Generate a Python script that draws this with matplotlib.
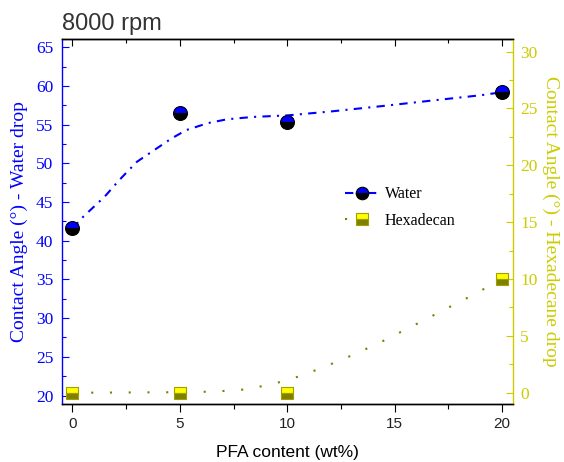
import matplotlib.pyplot as plt
from matplotlib.ticker import MultipleLocator

# 数据
pfa = [0, 5, 10, 20]
water = [41.6, 56.5, 55.4, 59.2]
hexa = [0.0, 0.0, 0.0, 10.0]

# 拟合曲线
water_fit_x = [0, 0.5, 1.5, 2.2, 3.0, 3.8, 4.6, 5.3, 6.3, 7.2, 8.4, 10, 12, 14.4, 17, 19, 20]
water_fit_y = [41.6, 43.1, 45.7, 47.9, 50.2, 51.7, 53.2, 54.3, 55.2, 55.7, 56.0, 56.2,
               56.7, 57.4, 58.2, 58.8, 59.2]
hexa_fit_x = [0, 5, 6.5, 7.8, 8.7, 9.6, 10.5, 11.35, 12.2, 13.05, 13.9, 14.75, 15.55,
              16.4, 17.2, 18.05, 18.9, 19.7, 20]
hexa_fit_y = [0, 0.05, 0.1, 0.24, 0.53, 0.91, 1.41, 2.0, 2.64, 3.32, 4.05, 4.81, 5.6,
              6.4, 7.2, 8.0, 8.86, 9.68, 10.0]

blue = '#0000ff'
yellow = '#cccc00'
olive = '#808000'

fig = plt.figure(figsize=(5.64, 4.62), dpi=100)
ax = fig.add_axes([0.1094, 0.1255, 0.7996, 0.790])
ax2 = ax.twinx()

# 水滴
ax.plot(water_fit_x, water_fit_y, color=blue, lw=1.5, dashes=(4, 3, 1, 3))
ax.plot(pfa, water, ls='none', marker='o', ms=10, fillstyle='top',
        markerfacecolor=blue, markerfacecoloralt='black', markeredgecolor='black', mew=0.8)
# 十六烷
ax2.plot(hexa_fit_x, hexa_fit_y, color=olive, lw=1.5, dashes=(1, 8))
ax2.plot(pfa, hexa, ls='none', marker='s', ms=9, fillstyle='top',
         markerfacecolor='#ffff00', markerfacecoloralt=olive, markeredgecolor='#a0a000', mew=0.8)

# 图例
h1, = ax2.plot([], [], color=blue, lw=1.5, dashes=(4, 3, 1, 3), marker='o', ms=10,
               fillstyle='top', markerfacecolor=blue, markerfacecoloralt='black',
               markeredgecolor='black', mew=0.8)
h2, = ax2.plot([], [], color=olive, lw=1.5, dashes=(1, 8), marker='s', ms=9,
               fillstyle='top', markerfacecolor='#ffff00', markerfacecoloralt=olive,
               markeredgecolor='#a0a000', mew=0.8)
ax2.legend([h1, h2], ['Water', 'Hexadecan'], loc='upper left', bbox_to_anchor=(0.628, 0.597),
           frameon=False, borderpad=0, borderaxespad=0, handlelength=2.2, handletextpad=0.3,
           labelspacing=0.65, markerscale=0.9,
           prop={'family': 'Liberation Serif', 'size': 11.5})

ax.set_xlim(-0.5, 20.5)
ax.set_ylim(18.9, 66.07)
ax2.set_ylim(-0.99, 31.1)

ax.xaxis.set_major_locator(MultipleLocator(5))
ax.xaxis.set_minor_locator(MultipleLocator(2.5))
ax.yaxis.set_major_locator(MultipleLocator(5))
ax.yaxis.set_minor_locator(MultipleLocator(2.5))
ax2.yaxis.set_major_locator(MultipleLocator(5))
ax2.yaxis.set_minor_locator(MultipleLocator(2.5))

ax.tick_params(axis='x', direction='out', length=6, width=0.8, pad=3.5,
               labelsize=11, labelcolor='#222222')
ax.tick_params(axis='x', which='minor', direction='out', length=3.5, width=0.8)
ax.tick_params(axis='y', which='both', direction='in', color=blue, width=0.8,
               labelcolor=blue, pad=6)
ax.tick_params(axis='y', which='major', length=5)
ax.tick_params(axis='y', which='minor', length=3)
ax2.tick_params(axis='y', which='both', direction='in', color=yellow, width=0.8,
                labelcolor=yellow, pad=5.5)
ax2.tick_params(axis='y', which='major', length=5)
ax2.tick_params(axis='y', which='minor', length=3)

for lab in ax.get_xticklabels():
    lab.set_fontfamily('Liberation Sans')
for lab in ax.get_yticklabels() + ax2.get_yticklabels():
    lab.set_fontfamily('Liberation Serif')
    lab.set_fontsize(12.5)

top = ax.secondary_xaxis('top')
top.xaxis.set_major_locator(MultipleLocator(5))
top.xaxis.set_minor_locator(MultipleLocator(2.5))
top.tick_params(axis='x', which='both', direction='in', labeltop=False, width=0.8)
top.tick_params(axis='x', which='major', length=5)
top.tick_params(axis='x', which='minor', length=3)

ax.spines['left'].set_color(blue)
ax.spines['right'].set_visible(False)
ax2.spines['left'].set_visible(False)
ax2.spines['right'].set_color(yellow)
for a in (ax, ax2):
    for s in a.spines.values():
        s.set_linewidth(1.0)

ax.set_xlabel('PFA content (wt%)', fontfamily='Liberation Sans', fontsize=12.5, labelpad=10)
ax.set_ylabel('Contact Angle (°) - Water drop', fontfamily='Liberation Serif', fontsize=14,
              color=blue, labelpad=6)
ax2.set_ylabel('Contact Angle (°) - Hexadecane drop', fontfamily='Liberation Serif',
               fontsize=14, color=yellow, rotation=270, va='bottom', labelpad=3)
ax.set_title('8000 rpm', loc='left', fontfamily='Liberation Sans', fontsize=17,
             color='#333333', pad=6.5)

fig.savefig('out.png', dpi=100)
